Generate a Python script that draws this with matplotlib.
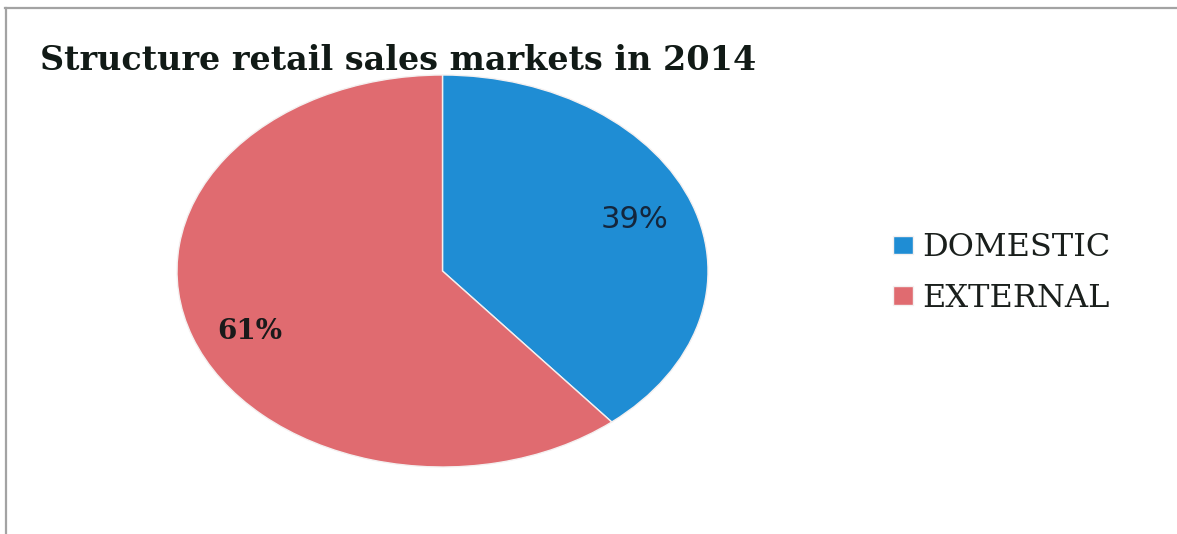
import matplotlib.pyplot as plt
from matplotlib.lines import Line2D

# retail sales split by market, 2014
markets = ['DOMESTIC', 'EXTERNAL']
shares = [39, 61]
colors = ['#1f8dd4', '#e06b70']
title = 'Structure retail sales markets in 2014'

fig = plt.figure(figsize=(11.77, 5.34), dpi=100)

# stretched (elliptical) pie: axes box spans the ellipse, aspect left free
ax = fig.add_axes([177 / 1177, 67 / 534, 531 / 1177, 392 / 534])
wedges, texts, autotexts = ax.pie(
    shares, colors=colors, startangle=90, counterclock=False,
    autopct='%.0f%%', pctdistance=0.77,
    wedgeprops=dict(edgecolor='#f4f0f0', linewidth=1.0))
ax.set_aspect('auto')
ax.set_xlim(-1, 1)
ax.set_ylim(-1, 1)

autotexts[0].set(family='DejaVu Sans', fontsize=22, color='#14263c')
autotexts[1].set(family='DejaVu Serif', fontsize=20, fontweight='bold',
                 color='#1a1a1a')
# nudge the larger label a little lower
x61, y61 = autotexts[1].get_position()
autotexts[1].set_position((x61, y61 - 0.05))

fig.text(40 / 1177, 1 - 60 / 534, title, family='DejaVu Serif',
         fontweight='bold', fontsize=24, color='#111a16', va='center')

fig.legend(wedges, markets, loc='center left',
           bbox_to_anchor=(893 / 1177, 1 - 273 / 534), frameon=False,
           prop=dict(family='DejaVu Serif', size=23),
           labelcolor='#1a1f1c', handlelength=0.62, handleheight=0.52,
           handletextpad=0.3, labelspacing=0.6, borderpad=0,
           borderaxespad=0)

# grey frame along the top and left edge
fig.add_artist(Line2D([5 / 1177, 1], [1 - 8 / 534, 1 - 8 / 534],
                      transform=fig.transFigure, color='#a3a3a3', lw=1.6))
fig.add_artist(Line2D([6 / 1177, 6 / 1177], [0, 1 - 8 / 534],
                      transform=fig.transFigure, color='#a3a3a3', lw=1.6))

fig.savefig('out.png', dpi=100)
